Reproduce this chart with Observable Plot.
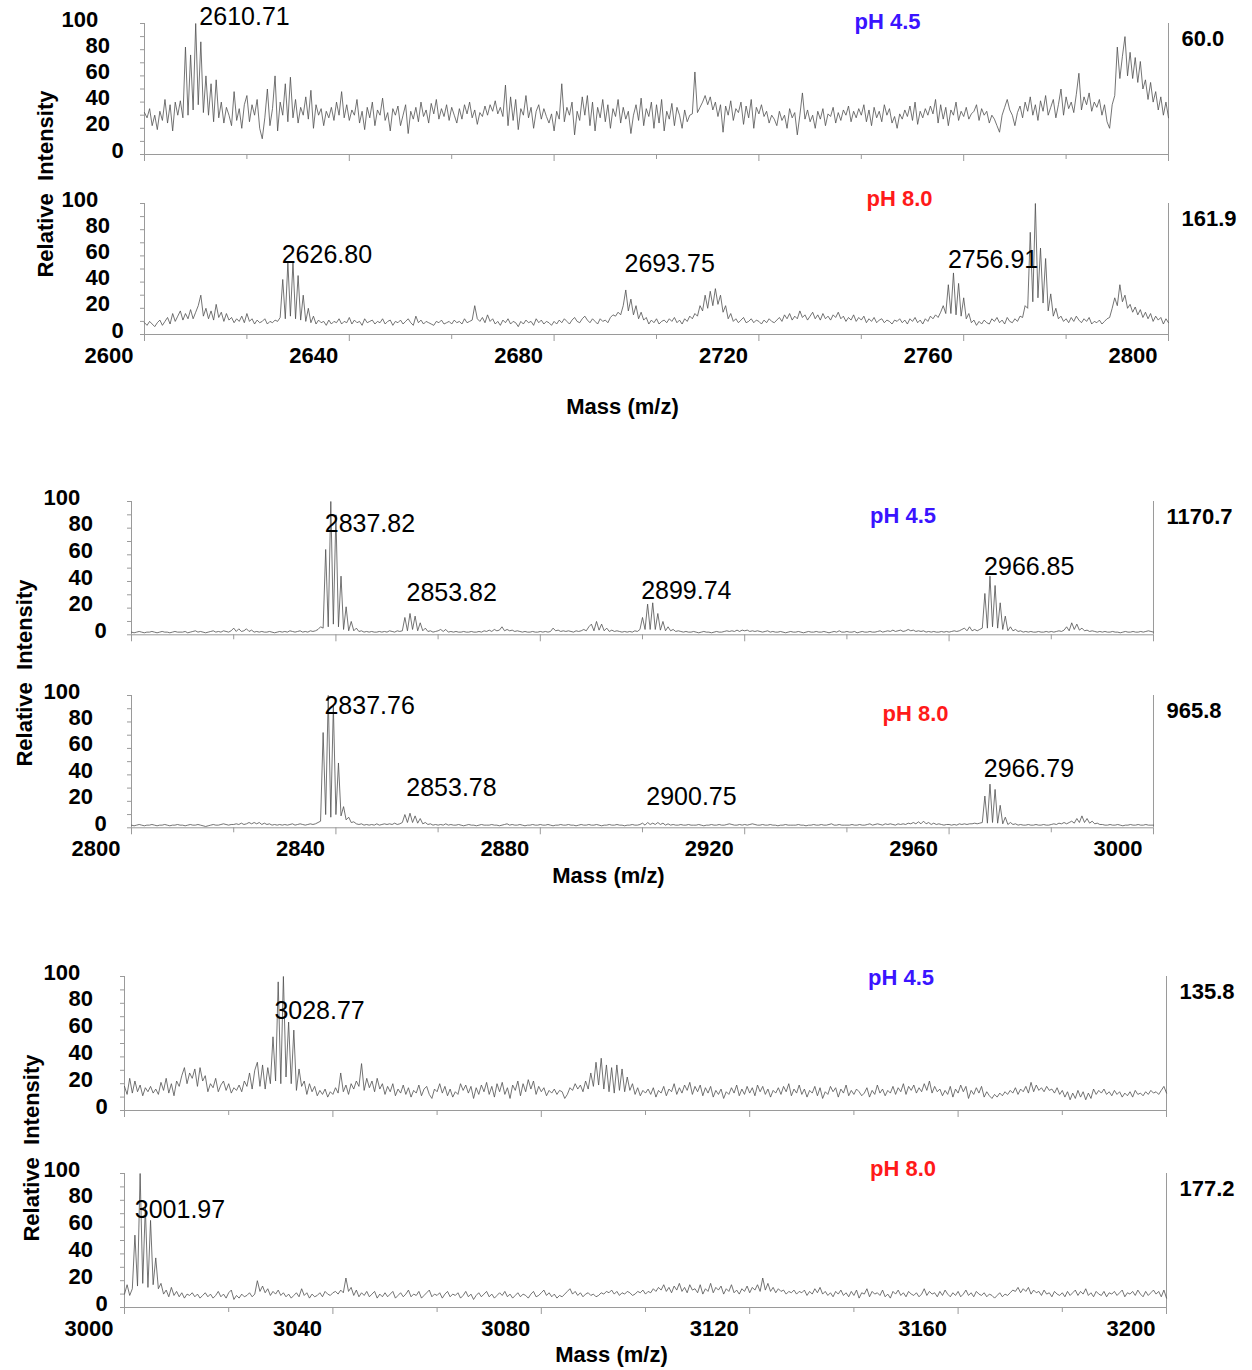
<!DOCTYPE html>
<html>
<head>
<meta charset="utf-8">
<script src="https://cdn.jsdelivr.net/npm/d3@7"></script>
<script src="https://cdn.jsdelivr.net/npm/@observablehq/plot@0.6"></script>
<style>
html,body{margin:0;padding:0;background:#fff;}
#root{position:relative;width:1252px;height:1370px;overflow:hidden;background:#fff;font-family:"Liberation Sans",Arial,Helvetica,sans-serif;}
.ylab{position:absolute;font-weight:bold;font-size:22px;white-space:pre;color:#000;line-height:1;transform:translate(-50%,-50%) rotate(-90deg);}
</style>
</head>
<body>
<div id="root"></div>
<script>
// ---------------- DATA (relative intensity, one value every 0.5 m/z) ----------------
const STEP = 0.5;

// 2600-2800, pH 4.5
const spec45_2600 = [
32,28,35,22,30,19,33,26,42,24,38,18,40,30,41,28,82,30,76,34,
100,38,86,32,60,30,54,25,57,28,40,24,36,30,22,48,26,35,20,38,
45,25,38,30,42,20,12,28,50,22,35,60,18,40,30,54,25,59,28,42,
24,36,30,44,27,49,20,38,30,35,22,33,28,36,26,40,30,48,28,38,
26,34,30,42,24,33,19,36,28,40,22,34,30,43,26,32,18,35,30,37,
22,30,38,16,33,27,36,25,40,29,34,24,39,31,42,27,35,29,38,26,
36,30,24,35,27,38,31,40,28,34,23,32,29,37,30,38,33,41,31,36,
29,53,22,44,26,42,19,35,30,45,28,36,20,33,38,27,35,29,24,31,
18,33,27,54,25,36,30,40,15,33,26,44,30,45,22,40,18,36,28,42,
25,38,20,35,29,42,24,36,27,33,16,30,38,26,43,22,35,29,40,20,
38,24,42,18,33,27,39,22,36,30,20,34,25,30,31,63,32,36,40,45,
38,44,34,40,29,38,17,37,30,41,26,35,32,40,23,37,28,42,20,36,
31,38,29,33,24,30,27,22,33,26,30,20,35,28,32,15,30,47,27,34,
25,30,20,33,27,35,22,31,29,36,24,32,26,34,30,37,25,33,28,35,
30,38,25,34,22,36,28,33,25,38,30,35,24,29,20,31,27,34,29,37,
26,40,23,33,28,35,30,37,31,42,24,38,27,36,22,34,30,40,26,33,
29,36,27,31,33,38,26,35,30,33,24,30,27,22,17,30,36,42,34,30,
22,32,37,28,40,33,44,30,38,26,41,33,45,30,36,42,28,38,50,30,
44,35,40,32,46,62,34,44,38,47,33,40,36,42,30,38,25,20,38,45,
82,58,75,90,60,78,58,74,55,71,50,57,42,55,40,48,34,44,30,40,
28];

// 2600-2800, pH 8.0
const spec80_2600 = [
9,7,10,8,6,9,11,7,10,13,8,16,10,14,18,11,16,12,19,12,
17,22,30,14,20,12,18,11,23,13,17,10,16,11,13,9,12,10,14,9,
16,10,12,8,11,9,10,12,8,10,9,11,10,13,42,12,55,14,55,12,
45,11,30,10,20,9,14,8,11,9,10,7,11,8,10,9,12,8,10,9,
13,8,11,9,10,7,12,9,10,11,8,10,9,12,8,10,11,7,10,9,
11,8,10,12,9,7,14,9,11,8,10,9,8,7,10,9,11,8,9,10,
8,11,9,10,8,12,9,10,11,22,12,10,13,9,15,10,12,8,10,7,
11,9,12,8,10,9,6,10,8,11,9,10,7,12,9,11,8,10,9,7,
10,8,11,9,12,10,8,11,13,10,9,12,14,11,9,12,10,8,12,10,
11,9,13,15,14,17,15,22,34,18,27,15,22,12,17,11,13,8,11,9,
12,8,10,11,9,12,10,13,9,11,8,12,10,14,12,16,14,22,18,30,
20,33,22,35,23,30,17,22,12,16,10,12,9,11,13,9,10,12,9,11,
10,8,11,9,12,10,9,11,13,10,15,12,16,11,14,12,18,13,15,11,
14,17,12,15,11,16,12,14,11,15,13,17,12,14,10,13,11,15,10,13,
11,14,9,12,10,13,9,11,12,9,11,10,8,11,10,12,9,11,8,12,
10,13,9,11,8,12,10,14,12,15,13,17,22,16,38,16,47,15,39,14,
28,12,16,9,11,7,10,8,11,9,8,12,10,13,9,11,8,13,10,9,
12,10,14,13,22,20,78,25,100,28,66,24,58,18,31,14,20,12,14,10,
12,9,13,10,14,11,9,12,10,13,8,10,9,11,8,10,12,13,20,28,
22,38,25,30,20,23,17,21,15,19,13,17,12,16,10,14,11,13,8,12,
9];

// 2800-3000, pH 4.5
const spec45_2800 = [
2,1.5,2,2.5,2,1.5,2,2,2.5,2,1.5,2,2.5,2,2,1.5,2,2.5,2,2,
2,2.5,1.5,2,2.5,3,2,2.5,2,1.5,2,2.5,3,2,2.5,2,3,2.5,2,3,
5,2.5,4.5,2.5,3,4.5,2.5,3.5,2,2.5,2,2.5,2,2,2.5,2,1.5,2,2.5,2,
2.5,2,3,2.5,2,2.5,3,2,2.5,2,3,2.5,3,4,6,5,64,6,100,8,
90,6,44,4,21,3,10,3,5,2.5,3,2,2.5,2,2.5,2,2,2.5,2,2.5,
2,3,2.5,2,3,2.5,3,13,3,16,4,14,3,9,3,5,2.5,3,2,2.5,
3,4,2.5,4,2,2.5,2,2.5,2,2,2.5,2,2,2.5,2,2,2.5,2,3,2.5,
3.5,2.5,4,3,3.5,6,3,4,3,3.5,2.5,3,2.5,2,2.5,2,2,2.5,2,2,
2.5,2,2.5,2,2.5,5,3,3.5,2.5,3,2.5,3,2.5,2,3,2.5,3,4,3,6,
8,3,10,3.5,8,3,5,2.5,3.5,2.5,3,2.5,2,2.5,2,2.5,2,3,2.5,4,
13,4,23,4,24,4,16,3.5,10,3,6,3,4,2.5,3,2.5,2,2.5,2,2,
2.5,2,1.5,2,2.5,2,2,1.5,2,2.5,2,2,2.5,3,2.5,3,2.5,3.5,2.5,3.5,
3,3.5,2.5,3,2.5,3,2.5,2,2.5,3,2,2.5,2,2,2.5,2,1.5,2,2.5,2,
2,2.5,2,1.5,2,2.5,2,2,2.5,2,2,2.5,2,1.5,2,2.5,2,3,2,2,
2.5,2,2,2.5,1.5,2,2.5,2,2,2.5,2,2,2.5,3,2,2.5,3,2.5,3.5,2.5,
3,3.5,2.5,3,4,3,3.5,2.5,3,2.5,3,2,2.5,2,2.5,2,2,2.5,2,2.5,
2,2.5,3,2.5,3,4,5,3,6,3,4,3,4,5,31,5,44,6,37,5,
24,4,14,3,6,3,4,2.5,3,2,2.5,2,2.5,2,2,2.5,2,2,2.5,2,
2.5,2,2.5,3,2.5,3.5,6,3,9,4,8,3.5,5,3,3.5,2.5,3,2.5,2,2.5,
2,2.5,2,2,2.5,2,2,1.5,2,2.5,2,2,2.5,2,2,2.5,2,2.5,3,2.5,
2];

// 2800-3000, pH 8.0
const spec80_2800 = [
2,1.5,2,2.5,2,1.5,2,2,2.5,2,1.5,2,2,2.5,2,1.5,2,2,2.5,2,
2,1.5,2,2.5,2,2,2.5,2,1.5,1,1.5,2,2.5,2,2,2.5,3,2.5,2,2.5,
2.5,3,2.5,3.5,2.5,3,4,3,4,3,4,2.5,3.5,2.5,3,2,2.5,2,2.5,2,
2.5,2,2.5,3,2,2.5,3,2.5,2,2.5,3,2.5,3,4,5,72,10,100,8,92,
10,49,9,16,6,8,4,4.5,3,2.5,3,2,2.5,2,2.5,2,3,2,2.5,3,
2.5,3,2.5,3.5,2.5,3,4,10,4,11,4,9,3.5,7,3,4,2.5,3,2,2.5,
2,2.5,2,3,2,2.5,2,2,2.5,2,1.5,2,2.5,2,2,1.5,2,2.5,2,2,
2,2.5,2,2,1.5,2,2.5,3,2,2.5,2,2,2.5,2,1.5,2,2,2.5,2,2,
2.5,2,2,2.5,2,1.5,2,2,2.5,2,2,2.5,2,2,1.5,2,2.5,2,2,2.5,
2,2,2.5,2,1.5,2,2,2.5,2,2,2.5,2,2,1.5,2,2,2.5,2,2,2.5,
3.5,2,4,2.5,3.5,2.5,4,2.5,3.5,2,3,2,2.5,2,2,2.5,2,2,2.5,2,
2,2,2.5,2,1.5,2,2,2.5,2,2,2.5,2,2,2.5,3,2.5,2,2,2.5,2,
2.5,2,2.5,3,2.5,2,2,2.5,2,2,2.5,2,2,1.5,2,2,2.5,2,2,2,
2,2.5,2,2,1.5,2,2,2.5,2,2,2.5,2,2,2.5,3,2,2,2.5,2,2,
2,2,2.5,2,2,2.5,2,2,2.5,3,2,2.5,3,2.5,2,3,2.5,3,2.5,2,
3,2.5,3,2.5,3.5,3,4,3,4.5,3,5,3,4,2.5,3.5,2.5,3,2.5,2,2.5,
2.5,2,2.5,2,3,2.5,3,2.5,3,3,3.5,3,3.5,4,24,3.5,33,4,29,3.5,
17,3,8,2.5,4,2.5,3,2,2.5,2,2,2.5,2,2,2.5,2,2,2.5,2,2,
2.5,3,2.5,3.5,3,4,3,4,5,3.5,7,4,9,4,7,3.5,5,3,3.5,2.5,
2.5,2,2,2.5,2,2,2.5,2,1.5,2,2,2.5,2,2,2.5,2,2,2.5,2,2,
2];

// 3000-3200, pH 4.5
const spec45_3000 = [
18,12,24,13,22,14,19,11,17,14,18,13,16,12,21,15,24,13,20,11,
22,18,26,32,20,28,24,31,18,32,22,26,14,20,17,24,14,19,22,15,
20,13,17,15,19,14,22,18,28,16,30,36,18,34,16,32,20,55,22,96,
20,100,25,66,20,60,15,31,18,22,12,20,14,18,11,15,12,16,10,14,
12,17,13,28,14,19,12,20,16,22,18,35,15,24,17,22,14,24,16,20,
12,18,14,20,11,16,13,19,12,17,10,15,13,19,11,16,18,12,9,16,
14,20,13,18,11,16,10,14,12,20,15,19,13,18,9,17,12,19,14,21,
12,18,10,20,14,21,12,17,9,19,15,22,11,20,14,23,16,22,12,18,
14,17,11,15,13,16,12,15,14,9,12,17,15,20,16,19,14,22,16,28,
18,36,19,39,16,34,14,32,13,34,15,31,14,25,15,20,12,17,11,15,
13,16,12,17,10,15,13,18,11,16,14,20,12,17,13,19,15,21,12,18,
14,19,11,17,13,18,10,15,12,16,9,14,12,17,13,19,11,16,12,18,
13,17,11,19,14,18,12,16,10,15,13,17,12,18,14,20,11,16,13,19,
12,16,10,15,13,18,11,17,9,14,12,18,14,17,10,16,13,19,11,15,
12,16,14,11,13,17,10,15,12,19,13,16,11,15,13,18,12,17,14,20,
12,18,15,19,13,17,14,20,15,22,13,18,14,16,11,15,12,18,10,16,
13,19,14,18,9,15,12,17,13,18,10,14,11,9,12,10,13,11,14,12,
15,13,17,12,16,14,18,13,21,14,19,15,17,14,18,15,16,13,17,12,
15,10,14,8,13,9,15,10,14,8,13,9,16,12,15,13,16,12,14,11,
15,12,14,10,13,11,14,10,15,12,13,11,14,12,15,13,14,12,15,18,
13];

// 3000-3200, pH 8.0
const spec80_3000 = [
10,17,9,14,54,16,100,18,75,15,65,17,37,14,18,10,13,8,15,9,
12,8,11,7,10,9,11,8,10,7,9,11,8,10,7,9,12,8,10,7,
11,13,6,9,7,10,8,9,11,8,10,20,12,16,11,14,9,12,10,13,
9,11,8,10,7,9,11,8,14,9,11,7,10,8,9,11,8,12,10,9,
11,12,10,13,11,22,12,15,9,13,8,11,9,12,8,10,12,7,10,8,
11,8,10,12,7,9,11,8,10,13,8,10,9,12,7,9,11,13,8,10,
9,11,7,10,12,8,10,9,11,7,9,12,8,10,6,9,11,8,10,12,
8,10,7,9,11,9,12,8,10,7,9,11,8,10,9,7,10,12,8,9,
11,13,9,11,8,10,7,9,8,10,12,14,10,12,9,11,8,10,11,9,
10,8,9,11,10,12,11,13,10,12,9,11,10,12,11,9,10,12,11,13,
10,12,11,14,12,15,13,17,12,15,11,16,13,18,12,15,11,17,13,14,
11,17,10,14,12,18,11,15,13,16,10,14,12,17,11,13,10,14,12,16,
11,15,13,17,12,22,13,18,12,15,11,14,12,13,10,12,11,13,10,12,
11,13,9,12,10,14,11,15,10,12,9,11,8,12,10,13,9,11,8,12,
9,13,7,11,10,14,8,12,10,11,9,13,8,10,7,12,10,13,9,11,
8,12,10,9,11,8,10,14,9,12,10,11,8,12,9,13,10,8,11,9,
12,8,10,13,9,11,8,12,10,9,11,8,10,9,7,9,11,8,10,9,
11,13,12,15,11,14,12,15,10,13,11,12,9,13,10,11,8,12,10,9,
11,8,12,9,11,13,9,12,10,14,9,11,8,12,10,9,12,8,11,10,
12,9,11,13,8,11,10,12,9,13,10,8,12,9,11,13,10,12,8,13,
7];

// Peak annotations: labelled mass and the intensity level where the label sits
const peaks45_2600 = [{mz: 2610.71, y: 98.5}];
const peaks80_2600 = [{mz: 2626.80, y: 54.8}, {mz: 2693.75, y: 47.9}, {mz: 2756.91, y: 51}];
const peaks45_2800 = [{mz: 2837.82, y: 76.9}, {mz: 2853.82, y: 25.4}, {mz: 2899.74, y: 26.6}, {mz: 2966.85, y: 44.6}];
const peaks80_2800 = [{mz: 2837.76, y: 86}, {mz: 2853.78, y: 24.3}, {mz: 2900.75, y: 17.2}, {mz: 2966.79, y: 38.4}];
const peaks45_3000 = [{mz: 3028.77, y: 68.3}];
const peaks80_3000 = [{mz: 3001.97, y: 67}];

// Absolute intensity of the 100% level (pH 4.5, pH 8.0)
const absMax_2600 = ["60.0", "161.9"];
const absMax_2800 = ["1170.7", "965.8"];
const absMax_3000 = ["135.8", "177.2"];

// ---------------- LAYOUT / STYLE ----------------
const BLUE = "#3a14ff", RED = "#ff1a1a", AXIS = "#9a9a9a", LINE = "#505050";
const FONT = "'Liberation Sans', Arial, Helvetica, sans-serif";

const groups = [
  {domain: [2600, 2800], x0: 144, x1: 1168, yLabStart: [61, 85, 111], massDy: 72.7, rel: [46, 183.5],
   panels: [
     {top: 23.3, bottom: 154.3, values: spec45_2600, peaks: peaks45_2600, ph: "pH 4.5", color: BLUE, phPos: [887, 22], max: absMax_2600[0]},
     {top: 203.3, bottom: 334.3, values: spec80_2600, peaks: peaks80_2600, ph: "pH 8.0", color: RED, phPos: [899, 199], max: absMax_2600[1]}
   ]},
  {domain: [2800, 3000], x0: 131, x1: 1153, yLabStart: [43, 68, 94], massDy: 47.7, rel: [25, 673],
   panels: [
     {top: 500.7, bottom: 634, values: spec45_2800, peaks: peaks45_2800, ph: "pH 4.5", color: BLUE, phPos: [902.5, 515], max: absMax_2800[0]},
     {top: 695, bottom: 827.3, values: spec80_2800, peaks: peaks80_2800, ph: "pH 8.0", color: RED, phPos: [915, 713], max: absMax_2800[1]}
   ]},
  {domain: [3000, 3200], x0: 124, x1: 1166, yLabStart: [43, 68, 95], massDy: 47.7, rel: [32, 1147.5],
   panels: [
     {top: 976, bottom: 1110, values: spec45_3000, peaks: peaks45_3000, ph: "pH 4.5", color: BLUE, phPos: [900.5, 977], max: absMax_3000[0]},
     {top: 1173.3, bottom: 1307.3, values: spec80_3000, peaks: peaks80_3000, ph: "pH 8.0", color: RED, phPos: [902.5, 1169], max: absMax_3000[1]}
   ]}
];

const root = document.getElementById("root");
const bold = {fontSize: 22, fontWeight: "bold", fill: "#000"};

for (const g of groups) {
  g.panels.forEach((p, k) => {
    const isBottom = k === 1;
    const h = p.bottom - p.top;
    const rows = p.values.map((v, i) => ({mz: g.domain[0] + i * STEP, v}));
    const yt = d3.range(0, 101, 10);
    const xt = d3.range(g.domain[0], g.domain[1] + 1, 20);
    const xMajor = xt.filter(d => (d - g.domain[0]) % 40 === 0);
    const xMinor = xt.filter(d => (d - g.domain[0]) % 40 !== 0);
    const yLabs = [[100], [80, 60, 40, 20], [0]];
    const marks = [
      Plot.ruleY([0], {stroke: AXIS}),
      Plot.ruleX([g.domain[0]], {y1: 0, y2: 100, stroke: AXIS}),
      Plot.ruleX([g.domain[1]], {y1: 0, y2: 100, stroke: AXIS}),
      Plot.axisY(yt, {anchor: "left", tickSize: 4, tickFormat: () => "", stroke: AXIS, label: null}),
      Plot.axisX(xMajor, {anchor: "bottom", tickSize: 7, tickFormat: () => "", stroke: AXIS, label: null}),
      Plot.axisX(xMinor, {anchor: "bottom", tickSize: 5, tickFormat: () => "", stroke: AXIS, label: null}),
      ...yLabs.map((vals, j) => Plot.text(vals, {
        x: () => g.domain[0], y: d => d, text: d => String(d),
        textAnchor: "start", lineAnchor: "middle", dx: g.yLabStart[j] - g.x0, dy: -4, ...bold
      })),
      Plot.line(rows, {x: "mz", y: "v", stroke: LINE, strokeWidth: 0.8}),
      Plot.text(p.peaks, {x: "mz", y: "y", text: d => d.mz.toFixed(2), textAnchor: "start", lineAnchor: "bottom", fontSize: 25, fill: "#000"}),
      Plot.text([p.ph], {text: d => d, frameAnchor: "top-left", dx: p.phPos[0] - g.x0, dy: p.phPos[1] - p.top,
        textAnchor: "middle", lineAnchor: "middle", fontSize: 22, fontWeight: "bold", fill: p.color}),
      Plot.text([p.max], {text: d => d, frameAnchor: "top-right", dx: 13, dy: 15, textAnchor: "start", lineAnchor: "middle", ...bold})
    ];
    if (isBottom) {
      marks.push(Plot.text(xMajor, {x: d => d, frameAnchor: "bottom", text: d => String(d), dx: -11, dy: 21,
        textAnchor: "end", lineAnchor: "middle", ...bold}));
      marks.push(Plot.text(["Mass (m/z)"], {text: d => d, frameAnchor: "bottom", dx: -34, dy: g.massDy, lineAnchor: "middle", ...bold}));
    }
    const svg = Plot.plot({
      width: 1252, height: h,
      marginLeft: g.x0, marginRight: 1252 - g.x1, marginTop: 0, marginBottom: 0,
      x: {domain: g.domain, label: null},
      y: {domain: [0, 100], label: null},
      style: {fontFamily: FONT, overflow: "visible", background: "transparent"},
      marks
    });
    svg.style.position = "absolute";
    svg.style.left = "0px";
    svg.style.top = p.top + "px";
    root.appendChild(svg);
  });
  const lab = document.createElement("div");
  lab.className = "ylab";
  lab.textContent = "Relative  Intensity";
  lab.style.left = g.rel[0] + "px";
  lab.style.top = g.rel[1] + "px";
  root.appendChild(lab);
}
</script>
</body>
</html>
